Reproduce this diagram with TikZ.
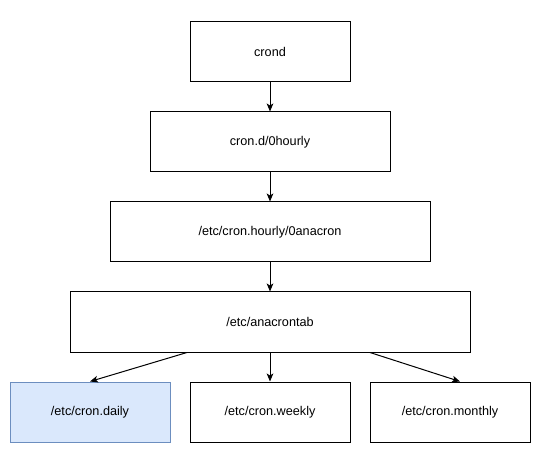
\documentclass[tikz,border=0pt]{standalone}
\usepackage{fontspec}
\setmainfont{Liberation Sans}
\usetikzlibrary{arrows.meta,calc}
\definecolor{bluefill}{HTML}{DAE8FC}
\definecolor{blueline}{HTML}{6C8EBF}
\tikzset{
  px/.style={x=0.75pt,y=-0.75pt},
  box/.style={draw=black,fill=white,rectangle,minimum height=45pt,inner sep=0pt,font=\fontsize{9.5}{11}\selectfont,line width=0.75pt},
  bluebox/.style={box,draw=blueline,fill=bluefill},
  arr/.style={draw=black,line width=0.75pt,-{Stealth[length=6pt,width=5pt,inset=1.5pt]}}
}
\begin{document}
\begin{tikzpicture}[px]
\useasboundingbox (0,0) rectangle (536,449);
\node[box,minimum width=120pt] (crond) at (270,52) {crond};
\node[box,minimum width=180pt] (hourly) at (270,142) {cron.d/0hourly};
\node[box,minimum width=240pt] (anacron) at (270,232) {/etc/cron.hourly/0anacron};
\node[box,minimum width=300pt] (tab) at (270,322) {/etc/anacrontab};
\node[bluebox,minimum width=120pt] (daily) at (90,412) {/etc/cron.daily};
\node[box,minimum width=120pt] (weekly) at (270,412) {/etc/cron.weekly};
\node[box,minimum width=120pt] (monthly) at (450,412) {/etc/cron.monthly};
\draw[arr] (crond) -- (hourly);
\draw[arr] (hourly) -- (anacron);
\draw[arr] (anacron) -- (tab);
\draw[arr] (tab.south) ++(-83,0) coordinate (s1) (s1) -- (daily.north);
\draw[arr] (tab) -- (weekly);
\draw[arr] (tab.south) ++(100,0) coordinate (s3) (s3) -- ($(monthly.north)+(10,0)$);
\end{tikzpicture}
\end{document}
